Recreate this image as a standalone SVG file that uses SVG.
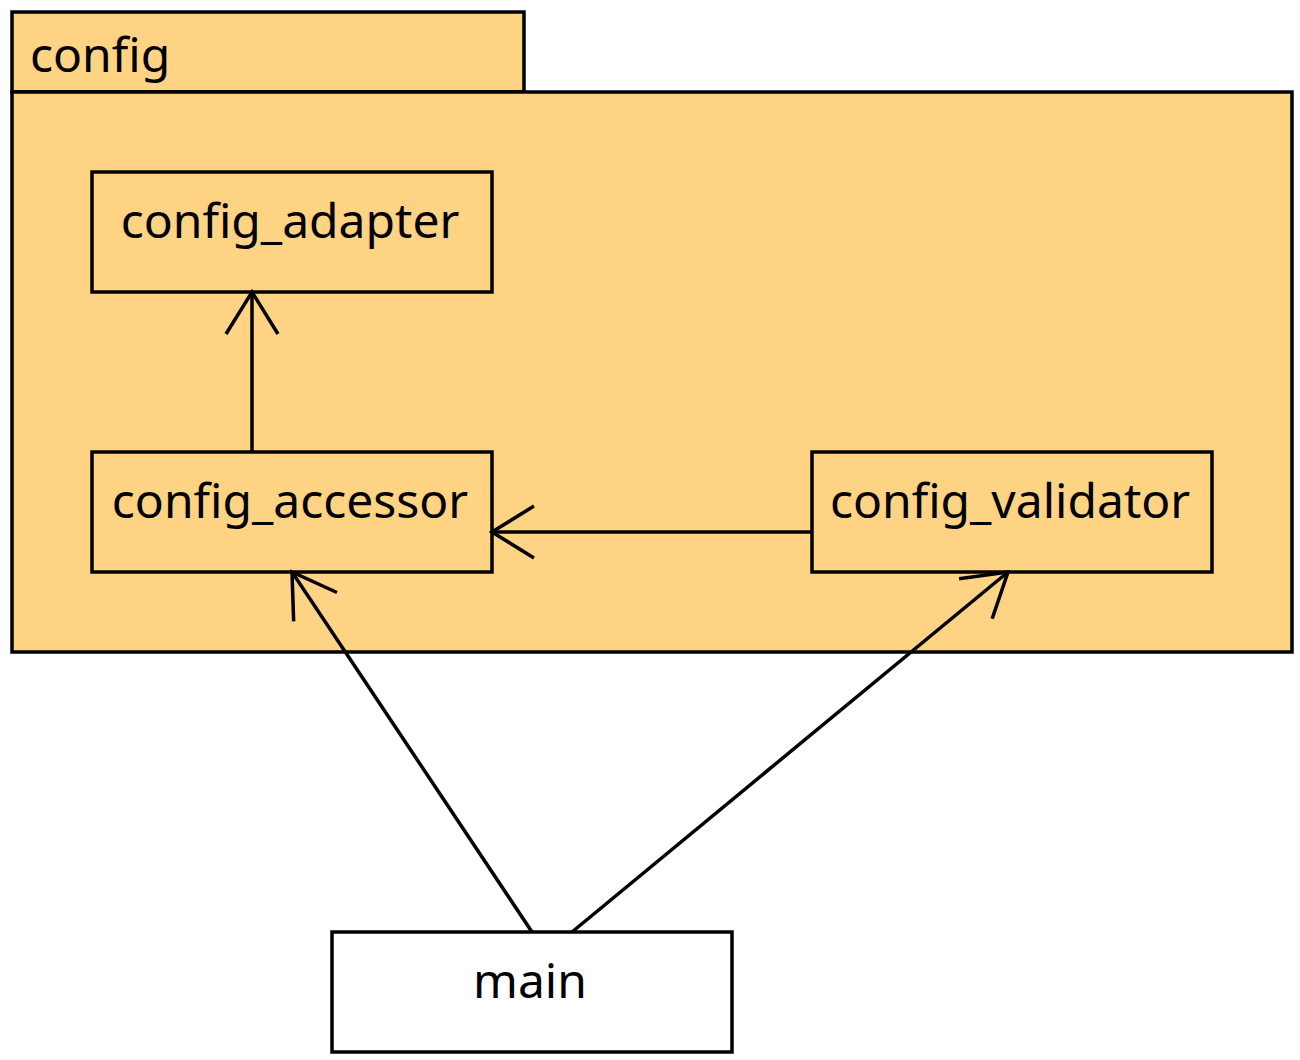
<svg xmlns="http://www.w3.org/2000/svg" width="1300" height="1060" viewBox="0 0 1300 1060">
<defs>
<style>
.pkg{fill:#FED384;stroke:#000;stroke-width:3.5}
.node{fill:#FED384;stroke:#000;stroke-width:3.5}
.white{fill:#fff}
.lbl{font-family:"Noto Sans","Open Sans",sans-serif;font-size:48px;fill:#000}
.conn{stroke:#000;stroke-width:3.5;fill:none}
</style>
<marker id="open" viewBox="0 0 60 60" refX="44" refY="30" markerWidth="60" markerHeight="60" markerUnits="userSpaceOnUse" orient="auto">
<path d="M2,4 L44,30 L2,56" fill="none" stroke="#000" stroke-width="3.5"/>
</marker>
</defs>
<rect width="1300" height="1060" fill="#fff"/>
<g id="config">
<rect class="pkg" x="12" y="12" width="512" height="80"/>
<rect class="pkg" x="12" y="92" width="1280" height="560"/>
<text class="lbl" x="30" y="72">config</text>
</g>
<g id="config_adapter">
<rect class="node" x="92" y="172" width="400" height="120"/>
<text class="lbl" x="290" y="238" text-anchor="middle">config_adapter</text>
</g>
<g id="config_accessor">
<rect class="node" x="92" y="452" width="400" height="120"/>
<text class="lbl" x="290" y="518" text-anchor="middle">config_accessor</text>
</g>
<g id="config_validator">
<rect class="node" x="812" y="452" width="400" height="120"/>
<text class="lbl" x="1010" y="518" text-anchor="middle">config_validator</text>
</g>
<g id="main">
<rect class="node white" x="332" y="932" width="400" height="120"/>
<text class="lbl" x="530" y="998" text-anchor="middle">main</text>
</g>
<g id="connectors">
<line class="conn" x1="252" y1="452" x2="252" y2="292" marker-end="url(#open)"/>
<line class="conn" x1="812" y1="532" x2="492" y2="532" marker-end="url(#open)"/>
<line class="conn" x1="532" y1="932" x2="292" y2="572" marker-end="url(#open)"/>
<line class="conn" x1="572" y1="932" x2="1008" y2="572" marker-end="url(#open)"/>
</g>
</svg>
